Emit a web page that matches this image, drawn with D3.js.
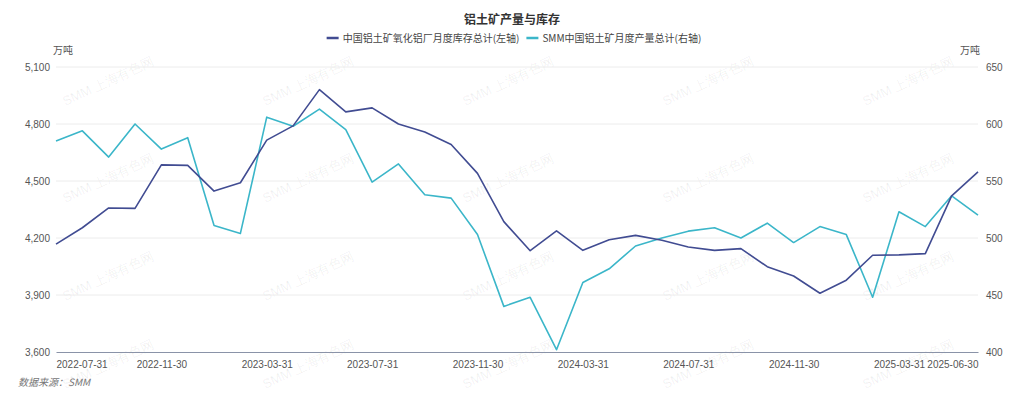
<!DOCTYPE html>
<html>
<head>
<meta charset="utf-8">
<script src="https://cdn.jsdelivr.net/npm/d3@7"></script>
<style>
  body { margin: 0; background: #fff; }
  svg { font-family: "Microsoft YaHei", "Noto Sans CJK SC", sans-serif; display: block; }
</style>
</head>
<body>
<svg width="1024" height="399"></svg>
<script>
// monthly dates, 2022-07 .. 2025-06 (month-end)
var dates = ["2022-07-31","2022-08-31","2022-09-30","2022-10-31","2022-11-30","2022-12-31",
  "2023-01-31","2023-02-28","2023-03-31","2023-04-30","2023-05-31","2023-06-30",
  "2023-07-31","2023-08-31","2023-09-30","2023-10-31","2023-11-30","2023-12-31",
  "2024-01-31","2024-02-29","2024-03-31","2024-04-30","2024-05-31","2024-06-30",
  "2024-07-31","2024-08-31","2024-09-30","2024-10-31","2024-11-30","2024-12-31",
  "2025-01-31","2025-02-28","2025-03-31","2025-04-30","2025-05-31","2025-06-30"];

// 中国铝土矿氧化铝厂月度库存总计 (左轴, 万吨)
var stock = [4168, 4254, 4358, 4356, 4585, 4582, 4447, 4491, 4715, 4790, 4981, 4864,
  4885, 4800, 4758, 4692, 4540, 4286, 4133, 4238, 4135, 4191, 4214, 4188,
  4153, 4135, 4144, 4049, 4000, 3909, 3978, 4109, 4111, 4118, 4422, 4548];

// SMM中国铝土矿月度产量总计 (右轴, 万吨)
var output = [585, 594, 571, 600, 578, 588, 511, 504, 606, 598, 613, 595,
  549, 565, 538, 535, 503, 440, 448, 402, 461, 473, 493, 500,
  506, 509, 500, 513, 496, 510, 503, 448, 523, 510, 537, 520];

var leftTicks = [3600, 3900, 4200, 4500, 4800, 5100];
var rightTicks = [400, 450, 500, 550, 600, 650];
var labelDates = ["2022-07-31","2022-11-30","2023-03-31","2023-07-31","2023-11-30",
  "2024-03-31","2024-07-31","2024-11-30","2025-03-31","2025-06-30"];

var seriesNames = ["中国铝土矿氧化铝厂月度库存总计(左轴)", "SMM中国铝土矿月度产量总计(右轴)"];
var colors = ["#414c92", "#3bb6c9"];

var svg = d3.select("svg"),
    margin = {top: 67, right: 46, bottom: 47, left: 56},
    width = +svg.attr("width") - margin.left - margin.right,
    height = +svg.attr("height") - margin.top - margin.bottom;

// watermark
var wm = svg.append("g").attr("fill", "#000").attr("fill-opacity", 0.065)
    .attr("font-size", 13).attr("font-family", "Arial, sans-serif");
[85, 182, 280, 368].forEach(function(wy) {
  [110, 310, 510, 710, 910].forEach(function(wx) {
    wm.append("text")
      .attr("transform", "translate(" + wx + "," + wy + ") rotate(-25)")
      .attr("text-anchor", "middle")
      .text("SMM 上海有色网");
  });
});

var g = svg.append("g").attr("transform", "translate(" + margin.left + "," + margin.top + ")");

var x = d3.scalePoint().domain(dates).range([0, width]);
var yL = d3.scaleLinear().domain([3600, 5100]).range([height, 0]);
var yR = d3.scaleLinear().domain([400, 650]).range([height, 0]);

// grid
g.append("g")
  .selectAll("line")
  .data(leftTicks.slice(1))
  .enter().append("line")
    .attr("x1", 0).attr("x2", width)
    .attr("y1", function(d) { return yL(d); })
    .attr("y2", function(d) { return yL(d); })
    .attr("stroke", "#ececec");

// x axis
var xAxis = g.append("g")
    .attr("transform", "translate(0," + height + ")")
    .call(d3.axisBottom(x).tickValues(labelDates).tickSize(0).tickPadding(9));
xAxis.select(".domain").attr("stroke", "#8a93a8").attr("stroke-width", 1.2);
xAxis.selectAll("text")
    .attr("fill", "#555").attr("font-size", 10)
    .attr("text-anchor", function(d, i) { return i === 0 ? "start" : (i === labelDates.length - 1 ? "end" : "middle"); });

// left axis
var la = g.append("g")
    .call(d3.axisLeft(yL).tickValues(leftTicks).tickSize(0).tickPadding(6).tickFormat(d3.format(",")));
la.select(".domain").remove();
la.selectAll("text").attr("fill", "#555").attr("font-size", 10);

// right axis
var ra = g.append("g")
    .attr("transform", "translate(" + width + ",0)")
    .call(d3.axisRight(yR).tickValues(rightTicks).tickSize(0).tickPadding(8));
ra.select(".domain").remove();
ra.selectAll("text").attr("fill", "#555").attr("font-size", 10);

// units
g.append("text").attr("x", 7).attr("y", -13).attr("text-anchor", "middle")
  .attr("font-size", 10).attr("fill", "#555").text("万吨");
g.append("text").attr("x", width - 8).attr("y", -13).attr("text-anchor", "middle")
  .attr("font-size", 10).attr("fill", "#555").text("万吨");

// lines
var lineL = d3.line().x(function(d, i) { return x(dates[i]); }).y(function(d) { return yL(d); });
var lineR = d3.line().x(function(d, i) { return x(dates[i]); }).y(function(d) { return yR(d); });

g.append("path").datum(output)
  .attr("fill", "none").attr("stroke", colors[1]).attr("stroke-width", 1.6)
  .attr("stroke-linejoin", "round").attr("d", lineR);
g.append("path").datum(stock)
  .attr("fill", "none").attr("stroke", colors[0]).attr("stroke-width", 1.6)
  .attr("stroke-linejoin", "round").attr("d", lineL);

// title
svg.append("text").attr("x", 512).attr("y", 24).attr("text-anchor", "middle")
  .attr("font-size", 12).attr("font-weight", "bold").attr("fill", "#333")
  .text("铝土矿产量与库存");

// legend, laid out left to right and centred
var legend = svg.append("g").attr("font-size", 10).attr("fill", "#444");
var items = legend.selectAll("g")
  .data(seriesNames)
  .enter().append("g");
items.append("line")
  .attr("x1", 0).attr("x2", 12)
  .attr("y1", -4).attr("y2", -4)
  .attr("stroke", function(d, i) { return colors[i]; }).attr("stroke-width", 2.5);
items.append("text")
  .attr("x", 16)
  .text(function(d) { return d; });
var pos = 0;
items.each(function() {
  var w = this.getBBox().width;
  d3.select(this).attr("transform", "translate(" + pos + ",42)");
  pos += w + 7;
});
legend.attr("transform", "translate(" + (514 - (pos - 7) / 2) + ",0)");

// source
svg.append("text").attr("x", 18).attr("y", 386)
  .attr("font-size", 10).attr("font-style", "italic").attr("fill", "#777")
  .text("数据来源：SMM");
</script>
</body>
</html>
